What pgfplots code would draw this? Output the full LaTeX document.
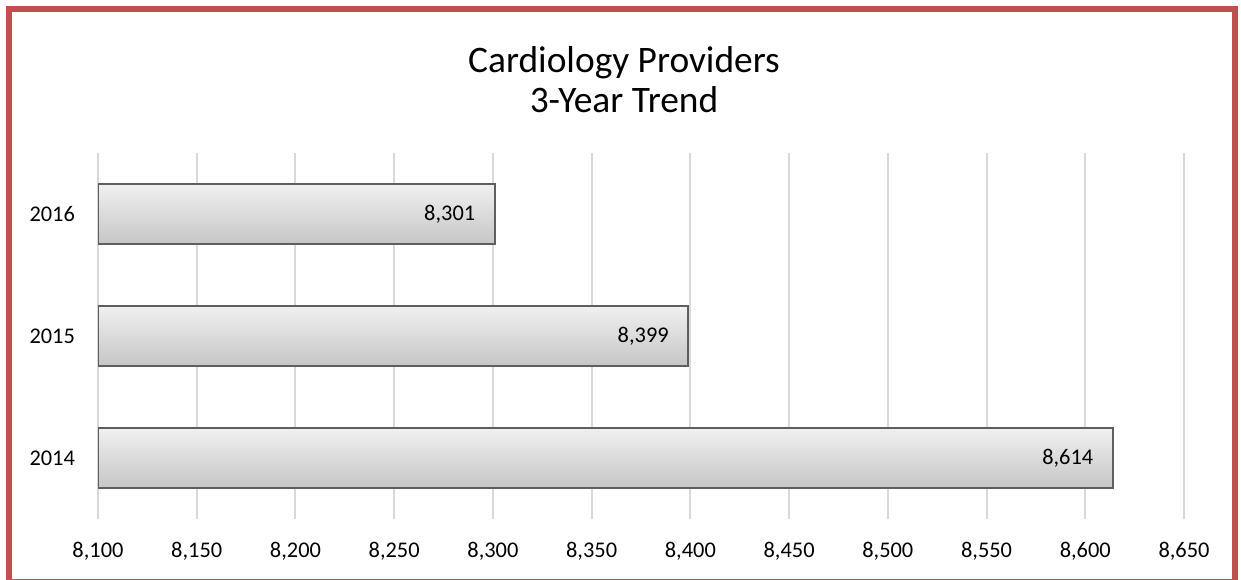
\documentclass[border=0pt]{standalone}
\usepackage{pgfplots}
\pgfplotsset{compat=1.18}
\usepackage{fontspec}
\setmainfont{Carlito}
\definecolor{frame}{RGB}{192,80,77}
\definecolor{gridc}{RGB}{217,217,217}
\definecolor{barline}{RGB}{95,95,95}
\definecolor{bartop}{RGB}{240,240,240}
\definecolor{barbot}{RGB}{198,198,198}
\pgfplotsset{barsty/.style={draw=barline, line width=1pt, top color=bartop, bottom color=barbot}}
\begin{document}
\begin{tikzpicture}[x=1pt,y=1pt]
\useasboundingbox (0,0) rectangle (620.5,289.5);
\fill[white] (0,0) rectangle (620.5,289.5);
\begin{scope}
\clip (0,0) rectangle (620.5,289.5);
\draw[frame, line width=3pt] (4.5,-1.4) rectangle (617.5,285);
\end{scope}
\node[font=\fontsize{18.7}{20}\selectfont, align=center] at (312,249.5) {Cardiology Providers\\3-Year Trend};
\begin{axis}[
  at={(49pt,30pt)}, anchor=south west,
  scale only axis, width=543pt, height=183pt,
  xbar, bar width=30pt, bar shift=0pt,
  xmin=8100, xmax=8650,
  ymin=-0.5, ymax=2.5,
  xtick={8100,8150,...,8650},
  ytick={0,1,2}, yticklabels={2014,2015,2016},
  xmajorgrids, major grid style={gridc, line width=1pt},
  axis line style={draw=none},
  major tick length=0pt,
  tick label style={font=\fontsize{11.2}{13}\selectfont},
  /pgf/number format/assume math mode=true,
  /pgf/number format/1000 sep={,},
  xticklabel style={yshift=-8pt},
  yticklabel style={xshift=-8pt},
  nodes near coords,
  nodes near coords align={left},
  every node near coord/.append style={black, font=\fontsize{11.2}{13}\selectfont, anchor=east, xshift=-6pt, /pgf/number format/1000 sep={,}, /pgf/number format/assume math mode=true},
]
\addplot[barsty] coordinates {(8614,0)};
\addplot[barsty] coordinates {(8399,1)};
\addplot[barsty] coordinates {(8301,2)};
\end{axis}
\end{tikzpicture}
\end{document}
